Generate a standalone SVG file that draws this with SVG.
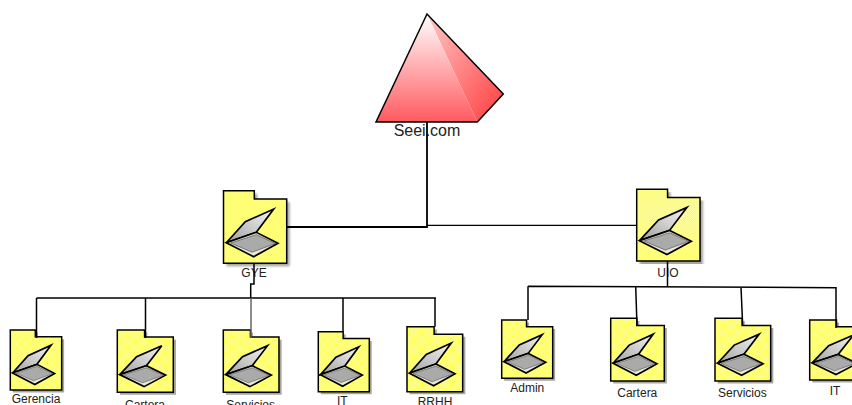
<svg xmlns="http://www.w3.org/2000/svg" width="852" height="405" viewBox="0 0 852 405">
<style>
text{font-family:"Liberation Sans",Arial,sans-serif;font-size:12px;fill:#222;text-anchor:middle}
.o{stroke:#000;vector-effect:non-scaling-stroke;stroke-linejoin:miter}
.c{fill:none;stroke:#000;stroke-width:1.5}
</style>
<defs>
<pattern id="dots" width="2" height="2" patternUnits="userSpaceOnUse"><rect width="2" height="2" fill="#ffff44"/><rect width="1" height="1" fill="#ffffa8"/><rect x="1" y="1" width="1" height="1" fill="#ffffa8"/></pattern>
<linearGradient id="lid" x1="0" y1="1" x2="1" y2="0"><stop offset="0" stop-color="#a0a0a0"/><stop offset=".5" stop-color="#cccccc"/><stop offset="1" stop-color="#f4f4f4"/></linearGradient>
<linearGradient id="pl" x1="0" y1="0" x2="0" y2="1"><stop offset="0" stop-color="#ffffff"/><stop offset="1" stop-color="#ff5a5f"/></linearGradient>
<linearGradient id="pr" x1="0" y1="0" x2="1" y2="1"><stop offset="0" stop-color="#ffc8c8"/><stop offset="1" stop-color="#ff3c3c"/></linearGradient>
<filter id="b" x="-10%" y="-10%" width="120%" height="120%"><feGaussianBlur stdDeviation="0.8"/></filter>
<g id="folder">
<path d="M3 3H33.800V11.300H66.200V75.600H3Z" fill="#777" opacity=".65" filter="url(#b)"/>
<path class="o" d="M0 0H30.800V8.300H63.200V72.600H0Z" fill="url(#dots)" stroke-width="1.5"/>
<path class="o" d="M2.800 52L21.800 31L50.200 18.300L32.800 41.600Z" fill="url(#lid)" stroke-width="1.700"/>
<path class="o" d="M2.800 52L30.200 66L54.500 52.600L32.800 41.600Z" fill="#e8e8d8" stroke-width="1.700"/>
<path d="M7 52.300L32.800 44L52 52.800L28.500 61.500Z" fill="#aaaaaa" stroke="#444" stroke-width=".6"/>
</g>
</defs>
<g id="seei">
<path d="M427 14L477.300 122L503.300 94Z" fill="url(#pr)"/>
<path d="M427 14L376 122H477.300Z" fill="url(#pl)"/>
<path d="M427 14L376 122H477.300L503.300 94Z" fill="none" stroke="#000" stroke-width="1.500"/>
<text x="427" y="136" style="font-size:16px">Seei.com</text>
</g>
<g id="gye"><use href="#folder" transform="translate(223.500 190.700)"/><text x="254" y="277">GYE</text></g>
<g id="uio"><use href="#folder" transform="translate(636.700 189.300) scale(1.002 .988)"/><text x="668" y="276.700">UIO</text></g>
<g id="gerencia"><use href="#folder" transform="translate(10.300 330) scale(.813 .826)"/><text x="36" y="403.300">Gerencia</text></g>
<g id="cartera-gye"><use href="#folder" transform="translate(117.300 330) scale(.886 .858)"/><text x="145" y="409">Cartera</text></g>
<g id="servicios-gye"><use href="#folder" transform="translate(223.300 330) scale(.881 .858)"/><text x="250.700" y="409">Servicios</text></g>
<g id="it-gye"><use href="#folder" transform="translate(318.300 331.700) scale(.807 .826)"/><text x="342.300" y="405.300">IT</text></g>
<g id="rrhh"><use href="#folder" transform="translate(407 326.700) scale(.881 .895)"/><text x="435" y="405.500">RRHH</text></g>
<g id="admin"><use href="#folder" transform="translate(501.700 320) scale(.807 .803)"/><text x="527.300" y="392.300">Admin</text></g>
<g id="cartera-uio"><use href="#folder" transform="translate(610.700 318.300) scale(.848 .864)"/><text x="637.300" y="396.700">Cartera</text></g>
<g id="servicios-uio"><use href="#folder" transform="translate(715 318.300) scale(.881 .864)"/><text x="742.300" y="396.700">Servicios</text></g>
<g id="it-uio"><use href="#folder" transform="translate(809.700 320) scale(.87 .826)"/><text x="835" y="395">IT</text></g>
<g id="connectors" class="c">
<path d="M427 122V227H287" stroke-width="1.800"/>
<path d="M427 225.300H636.500" stroke-width="1.300"/>
<path d="M254 263V284H250.700V298"/>
<path d="M36.500 298H436M36.500 298V338M145.500 298V338M343 298V331.700M435 298V326.700"/>
<path d="M251 298V338" stroke="#666"/>
<path d="M667.500 261V286.500"/>
<path d="M528 286.200L836 287.700V328M528 286.200V320M635.700 286.500L637 326M741 287L742.700 326"/>
</g>
</svg>
